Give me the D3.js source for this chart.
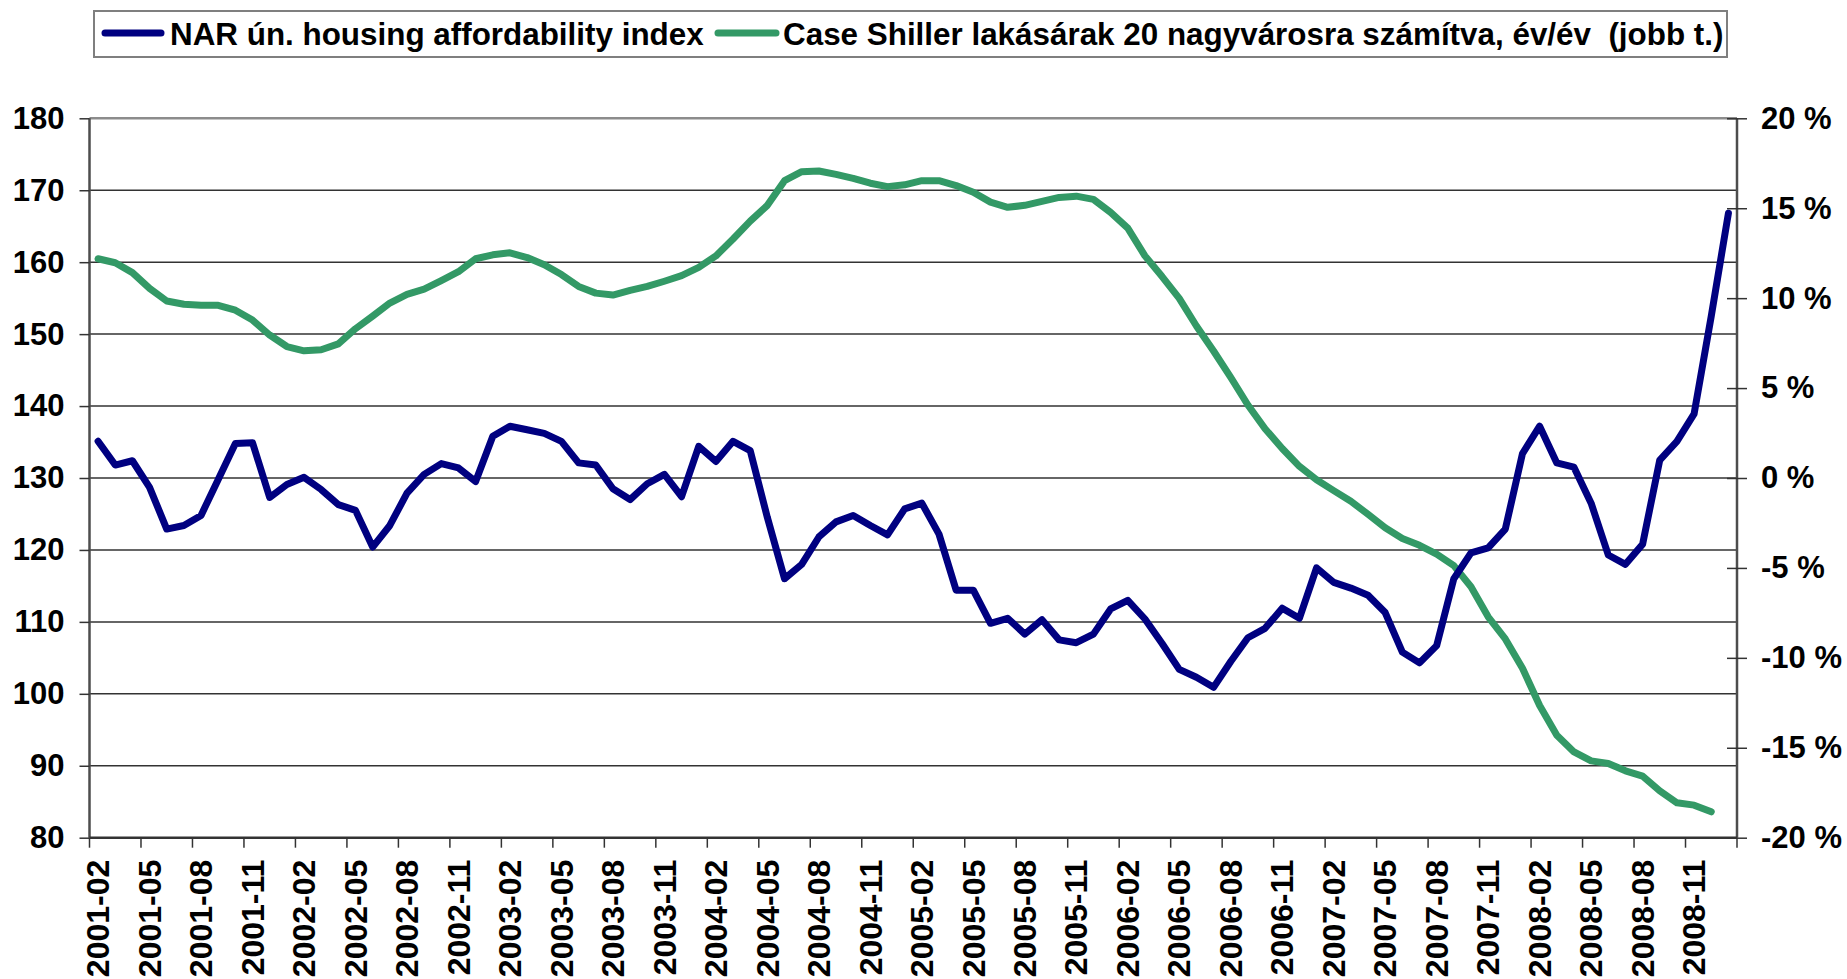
<!DOCTYPE html>
<html lang="hu">
<head>
<meta charset="UTF-8">
<title>NAR housing affordability vs Case Shiller</title>
<style>
  body { margin: 0; padding: 0; background: #fff; }
  svg { display: block; font-family: "Liberation Sans", Arial, sans-serif; font-weight: bold; }
  .grid line { stroke: #333; stroke-width: 1.5; }
</style>
</head>
<body>
<script src="https://d3js.org/d3.v7.min.js"></script>
<script>
// monthly categories 2001-02 .. 2009-01
var months = d3.timeMonths(new Date(2001, 1, 1), new Date(2009, 1, 1)).map(d3.timeFormat("%Y-%m"));

// NAR housing affordability index (left axis)
var nar = [
  135.1, 131.8, 132.4, 128.7, 122.9, 123.4, 124.8, 129.8, 134.8, 134.9, 127.3, 129.1,
  130.1, 128.4, 126.3, 125.5, 120.4, 123.4, 127.9, 130.5, 132.0, 131.4, 129.5, 135.8,
  137.2, 136.7, 136.2, 135.1, 132.1, 131.8, 128.5, 127.0, 129.2, 130.5, 127.4, 134.4,
  132.3, 135.1, 133.8, 124.5, 116.0, 118.0, 121.8, 123.9, 124.8, 123.4, 122.1, 125.7,
  126.5, 122.2, 114.4, 114.4, 109.8, 110.5, 108.3, 110.3, 107.5, 107.1, 108.3, 111.8,
  113.0, 110.4, 107.0, 103.4, 102.3, 100.9, 104.5, 107.8, 109.1, 111.9, 110.5, 117.5,
  115.5, 114.7, 113.7, 111.3, 105.8, 104.3, 106.7, 116.0, 119.6, 120.3, 122.9, 133.4,
  137.2, 132.1, 131.5, 126.5, 119.3, 118.0, 120.8, 132.5, 135.1, 138.9, 152.5, 166.8
];

// Case Shiller 20-city, y/y % (right axis), ends 2008-12
var caseShiller = [
  12.19, 11.97, 11.42, 10.54, 9.84, 9.66, 9.60, 9.60, 9.33, 8.78, 7.95, 7.31,
  7.07, 7.13, 7.46, 8.30, 9.00, 9.73, 10.21, 10.50, 10.98, 11.47, 12.19, 12.41,
  12.52, 12.26, 11.86, 11.31, 10.65, 10.28, 10.17, 10.43, 10.65, 10.94, 11.25, 11.71,
  12.35, 13.29, 14.28, 15.16, 16.53, 17.03, 17.07, 16.88, 16.66, 16.39, 16.20, 16.30,
  16.53, 16.53, 16.26, 15.89, 15.34, 15.05, 15.16, 15.38, 15.60, 15.67, 15.49, 14.77,
  13.89, 12.35, 11.20, 9.99, 8.45, 7.06, 5.59, 4.06, 2.74, 1.64, 0.65, -0.10,
  -0.70, -1.29, -2.02, -2.77, -3.36, -3.74, -4.23, -4.87, -6.05, -7.72, -8.95, -10.58,
  -12.65, -14.30, -15.23, -15.73, -15.87, -16.28, -16.58, -17.40, -18.06, -18.19, -18.56
];

var leftTicks = [80, 90, 100, 110, 120, 130, 140, 150, 160, 170, 180];
var rightTicks = [-20, -15, -10, -5, 0, 5, 10, 15, 20];
var legendLabels = ["NAR ún. housing affordability index",
                    "Case Shiller lakásárak 20 nagyvárosra számítva, év/év  (jobb t.)"];
var colors = ["#000080", "#339966"];

var width = 1847, height = 979;
var plotLeft = 89.5, plotRight = 1737, plotTop = 118.3, plotBottom = 837.7;

var svg = d3.select("body").append("svg")
    .attr("width", width)
    .attr("height", height);

var x = d3.scaleBand().domain(months).range([plotLeft, plotRight]).padding(0);
var yL = d3.scaleLinear().domain([80, 180]).range([plotBottom, plotTop]);
var yR = d3.scaleLinear().domain([-20, 20]).range([plotBottom, plotTop]);

// horizontal gridlines
svg.append("g").attr("class", "grid")
    .selectAll("line")
    .data(leftTicks.slice(1, -1))
    .enter().append("line")
    .attr("x1", plotLeft).attr("x2", plotRight)
    .attr("y1", function (d) { return yL(d); })
    .attr("y2", function (d) { return yL(d); });

// plot frame: top grey, axes darker
svg.append("line").attr("x1", plotLeft).attr("x2", plotRight).attr("y1", plotTop).attr("y2", plotTop)
    .attr("stroke", "#8c8c8c").attr("stroke-width", 2.5);
svg.append("line").attr("x1", plotLeft).attr("x2", plotLeft).attr("y1", plotTop).attr("y2", plotBottom)
    .attr("stroke", "#4d4d4d").attr("stroke-width", 2.5);
svg.append("line").attr("x1", plotRight).attr("x2", plotRight).attr("y1", plotTop).attr("y2", plotBottom)
    .attr("stroke", "#4d4d4d").attr("stroke-width", 2.5);
svg.append("line").attr("x1", plotLeft).attr("x2", plotRight).attr("y1", plotBottom).attr("y2", plotBottom)
    .attr("stroke", "#333").attr("stroke-width", 2.5);

// left axis
var axL = svg.append("g")
    .attr("transform", "translate(" + plotLeft + ",0)")
    .call(d3.axisLeft(yL).tickValues(leftTicks).tickSize(10).tickPadding(15));
axL.select(".domain").remove();
axL.selectAll("line").attr("stroke", "#333").attr("stroke-width", 1.5);
axL.selectAll("text").attr("font-size", 31).attr("fill", "#000")
    .attr("font-family", "Liberation Sans, Arial, sans-serif").attr("font-weight", "bold");

// right axis, ticks cross the axis line
var axR = svg.append("g")
    .attr("transform", "translate(" + plotRight + ",0)")
    .call(d3.axisRight(yR).tickValues(rightTicks).tickSize(10).tickPadding(14)
        .tickFormat(function (d) { return d + " %"; }));
axR.select(".domain").remove();
axR.selectAll("line").attr("x1", -10).attr("stroke", "#333").attr("stroke-width", 1.5);
axR.selectAll("text").attr("font-size", 31).attr("fill", "#000")
    .attr("font-family", "Liberation Sans, Arial, sans-serif").attr("font-weight", "bold");

// bottom ticks at every 3rd category boundary
var tickIdx = d3.range(0, months.length + 1, 3);
svg.append("g").selectAll("line")
    .data(tickIdx)
    .enter().append("line")
    .attr("x1", function (i) { return plotLeft + i * x.bandwidth(); })
    .attr("x2", function (i) { return plotLeft + i * x.bandwidth(); })
    .attr("y1", plotBottom).attr("y2", plotBottom + 10)
    .attr("stroke", "#333").attr("stroke-width", 1.5);

// category labels, rotated
svg.append("g").selectAll("text")
    .data(months.filter(function (d, i) { return i % 3 === 0; }))
    .enter().append("text")
    .attr("transform", function (d) {
        return "translate(" + (x(d) + x.bandwidth() / 2) + "," + (plotBottom + 22) + ") rotate(-90)";
    })
    .attr("text-anchor", "end")
    .attr("dy", "0.35em")
    .attr("font-size", 32)
    .text(function (d) { return d; });

// series lines
var lineL = d3.line()
    .x(function (d, i) { return x(months[i]) + x.bandwidth() / 2; })
    .y(function (d) { return yL(d); });
var lineR = d3.line()
    .x(function (d, i) { return x(months[i]) + x.bandwidth() / 2; })
    .y(function (d) { return yR(d); });

svg.append("path").datum(caseShiller)
    .attr("d", lineR)
    .attr("fill", "none").attr("stroke", colors[1]).attr("stroke-width", 7)
    .attr("stroke-linejoin", "round").attr("stroke-linecap", "round");
svg.append("path").datum(nar)
    .attr("d", lineL)
    .attr("fill", "none").attr("stroke", colors[0]).attr("stroke-width", 7)
    .attr("stroke-linejoin", "round").attr("stroke-linecap", "round");

// legend
var lg = svg.append("g");
lg.append("rect").attr("x", 94).attr("y", 11).attr("width", 1633).attr("height", 46)
    .attr("fill", "#fff").attr("stroke", "#7f7f7f").attr("stroke-width", 2);
var legendPos = [{ x1: 105, x2: 161, tx: 170 }, { x1: 718, x2: 776, tx: 783 }];
legendPos.forEach(function (p, k) {
    lg.append("line").attr("x1", p.x1).attr("x2", p.x2).attr("y1", 33).attr("y2", 33)
        .attr("stroke", colors[k]).attr("stroke-width", 7).attr("stroke-linecap", "round");
    lg.append("text").attr("x", p.tx).attr("y", 45).attr("font-size", 31.4)
        .style("white-space", "pre")
        .text(legendLabels[k]);
});
</script>
</body>
</html>
